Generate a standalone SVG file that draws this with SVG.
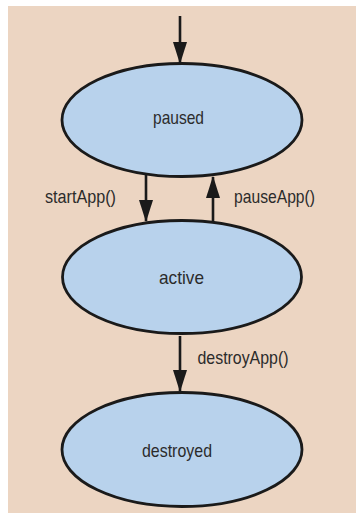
<svg xmlns="http://www.w3.org/2000/svg" width="356" height="513" viewBox="0 0 356 513">
<style>
.bg{fill:#ecd5c2}
.state{fill:#b8d2ec;stroke:#1a1a1a;stroke-width:2.8}
.lbl{font-family:"Liberation Sans",Arial,sans-serif;font-size:19px;fill:#2b2b2b}
.edge{stroke:#1a1a1a;stroke-width:2.6;fill:none;marker-end:url(#ah)}
</style>
<defs>
<marker id="ah" viewBox="0 0 22 14" refX="21" refY="7" markerWidth="22" markerHeight="14" markerUnits="userSpaceOnUse" orient="auto">
<path d="M0,0 L22,7 L0,14 Z" fill="#1a1a1a"/>
</marker>
</defs>
<rect class="bg" x="8" y="6" width="348" height="507"/>
<g id="connectors">
<line class="edge" x1="180" y1="16" x2="180" y2="63"/>
<line class="edge" x1="146" y1="175" x2="146" y2="221"/>
<line class="edge" x1="213" y1="221" x2="213" y2="177"/>
<line class="edge" x1="180" y1="336" x2="180" y2="391"/>
<text class="lbl" x="45" y="203" textLength="71" lengthAdjust="spacingAndGlyphs">startApp()</text>
<text class="lbl" x="234" y="203" textLength="81" lengthAdjust="spacingAndGlyphs">pauseApp()</text>
<text class="lbl" x="197.5" y="364" textLength="91" lengthAdjust="spacingAndGlyphs">destroyApp()</text>
</g>
<g id="paused">
<ellipse class="state" cx="182" cy="120" rx="120" ry="56.5"/>
<text class="lbl" x="153" y="124" textLength="51" lengthAdjust="spacingAndGlyphs">paused</text>
</g>
<g id="active">
<ellipse class="state" cx="182" cy="277" rx="119.5" ry="56.5"/>
<text class="lbl" x="159" y="284" textLength="45" lengthAdjust="spacingAndGlyphs">active</text>
</g>
<g id="destroyed">
<ellipse class="state" cx="182" cy="449.5" rx="120" ry="57"/>
<text class="lbl" x="142" y="457" textLength="70" lengthAdjust="spacingAndGlyphs">destroyed</text>
</g>
</svg>
